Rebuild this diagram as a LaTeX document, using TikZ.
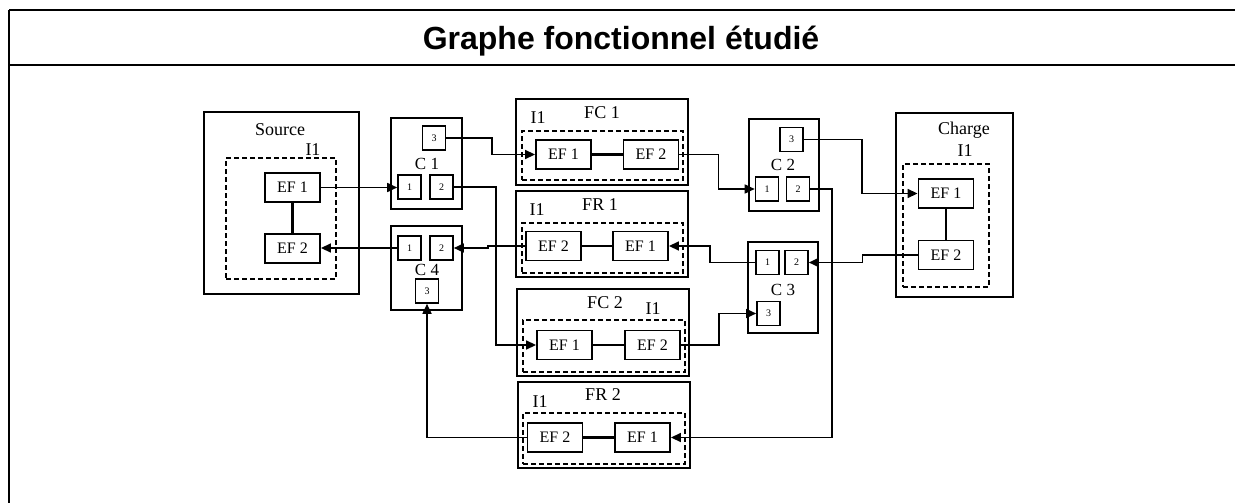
\documentclass[tikz,border=0pt]{standalone}
\usepackage{fontspec}
\setmainfont{Liberation Serif}
\newfontfamily\titlefont{Liberation Sans}
\usetikzlibrary{arrows.meta}
\begin{document}
\begin{tikzpicture}[x=1pt,y=-1pt,
  frame/.style={line width=1.8pt},
  outerbox/.style={draw,line width=1.9pt,inner sep=0pt},
  dashbox/.style={draw,line width=1.4pt,dash pattern=on 5pt off 3pt,inner sep=0pt},
  efbox/.style={draw,line width=1.9pt,minimum width=55pt,minimum height=29pt,inner sep=0pt,font=\fontsize{16}{16}\selectfont},
  port/.style={draw,line width=1.6pt,minimum width=23pt,minimum height=24pt,inner sep=0pt,font=\fontsize{10}{10}\selectfont},
  lbl/.style={inner sep=0pt,font=\fontsize{18}{18}\selectfont},
  clbl/.style={inner sep=0pt,font=\fontsize{17}{17}\selectfont},
  link/.style={line width=2.4pt},
  arr/.style={line width=1.7pt,-{Triangle[length=10pt,width=9pt]}}
]
\useasboundingbox (0,0) rectangle (1235,503);
% frame
\draw[frame] (9,10) -- (1235,10);
\draw[frame] (9,65) -- (1235,65);
\draw[frame] (9,10) -- (9,503);
\node[inner sep=0pt,font=\titlefont\bfseries\fontsize{32}{32}\selectfont] (title) at (621,41) {Graphe fonctionnel étudié};

% Source
\node[outerbox,minimum width=155pt,minimum height=182pt] (src) at (281.5,203) {};
\node[lbl,font=\fontsize{18}{18}\selectfont] (srcl) at (280,130) {Source};
\node[dashbox,minimum width=110pt,minimum height=121pt] (srcd) at (281,218.5) {};
\node[lbl] (srci) at (313,150) {I1};
\node[efbox] (se1) at (292.5,187.5) {EF 1};
\node[efbox] (se2) at (292.5,248.5) {EF 2};
\draw[link] (se1) -- (se2);

% C1
\node[outerbox,minimum width=71pt,minimum height=91pt] (c1) at (426.5,163.5) {};
\node[port] (c1p3) at (434,138) {3};
\node[clbl] (c1l) at (427,164) {C 1};
\node[port] (c1p1) at (409.5,187) {1};
\node[port] (c1p2) at (441.5,187) {2};

% C4
\node[outerbox,minimum width=71pt,minimum height=84pt] (c4) at (426.5,268) {};
\node[port] (c4p1) at (409.5,248) {1};
\node[port] (c4p2) at (441.5,248) {2};
\node[clbl] (c4l) at (427,270) {C 4};
\node[port] (c4p3) at (427,291) {3};

% FC1
\node[outerbox,minimum width=172pt,minimum height=86pt] (fc1) at (602,142) {};
\node[lbl] (fc1l) at (602,113) {FC 1};
\node[lbl] (fc1i) at (538,118) {I1};
\node[dashbox,minimum width=161pt,minimum height=49pt] (fc1d) at (602.5,155.5) {};
\node[efbox] (fc1e1) at (563.5,154.5) {EF 1};
\node[efbox] (fc1e2) at (651,154.5) {EF 2};
\draw[link] (fc1e1) -- (fc1e2);

% FR1
\node[outerbox,minimum width=172pt,minimum height=86pt] (fr1) at (602,234) {};
\node[lbl] (fr1l) at (600,205) {FR 1};
\node[lbl] (fr1i) at (537,210) {I1};
\node[dashbox,minimum width=161pt,minimum height=50pt] (fr1d) at (602.5,248) {};
\node[efbox] (fr1e2) at (553.5,246) {EF 2};
\node[efbox] (fr1e1) at (640.5,246) {EF 1};
\draw[link] (fr1e2) -- (fr1e1);

% FC2
\node[outerbox,minimum width=172pt,minimum height=87pt] (fc2) at (603,332.5) {};
\node[lbl] (fc2l) at (605,303) {FC 2};
\node[lbl] (fc2i) at (653,309) {I1};
\node[dashbox,minimum width=162pt,minimum height=52pt] (fc2d) at (604,346) {};
\node[efbox] (fc2e1) at (564.5,345) {EF 1};
\node[efbox] (fc2e2) at (652.5,345) {EF 2};
\draw[link] (fc2e1) -- (fc2e2);

% FR2
\node[outerbox,minimum width=172pt,minimum height=86pt] (fr2) at (604,425) {};
\node[lbl] (fr2l) at (603,395) {FR 2};
\node[lbl] (fr2i) at (540,402) {I1};
\node[dashbox,minimum width=162pt,minimum height=51pt] (fr2d) at (604,438.5) {};
\node[efbox] (fr2e2) at (555,437.5) {EF 2};
\node[efbox] (fr2e1) at (642.5,437.5) {EF 1};
\draw[link] (fr2e2) -- (fr2e1);

% C2
\node[outerbox,minimum width=70pt,minimum height=92pt] (c2) at (784,165) {};
\node[port] (c2p3) at (791.5,139.5) {3};
\node[clbl] (c2l) at (783,165) {C 2};
\node[port] (c2p1) at (767,189) {1};
\node[port] (c2p2) at (798,189) {2};

% C3
\node[outerbox,minimum width=70pt,minimum height=91pt] (c3) at (783,287.5) {};
\node[port] (c3p1) at (767.5,262.5) {1};
\node[port] (c3p2) at (796.5,262.5) {2};
\node[clbl] (c3l) at (783,290) {C 3};
\node[port] (c3p3) at (768.5,313.5) {3};

% Charge
\node[outerbox,minimum width=117pt,minimum height=184pt] (ch) at (954.5,205) {};
\node[lbl,font=\fontsize{18}{18}\selectfont] (chl) at (964,130) {Charge};
\node[lbl] (chi) at (965,151) {I1};
\node[dashbox,minimum width=86pt,minimum height=123pt] (chd) at (946,225.5) {};
\node[efbox] (che1) at (946,193.5) {EF 1};
\node[efbox] (che2) at (946,255) {EF 2};
\draw[link] (che1) -- (che2);

% connectors
\draw[arr] (se1.east) -- (se1.east -| c1p1.west);
\draw[arr] (c1p3.east) -- ++(46,0) |- (fc1e1.west);
\draw[arr] (c1p2.east) -- ++(42,0) |- (fc2e1.west);
\draw[arr] (c4p1.west) -- (c4p1.west -| se2.east);
\draw[arr] (fr1e2.west) -- ++(-37,0) |- (c4p2.east);
\draw[arr] (fr2e2.west) -| (c4p3.south);
\draw[arr] (fc1e2.east) -- ++(39,0) |- (c2p1.west);
\draw[arr] (c3p1.west) -- ++(-45,0) |- (fr1e1.east);
\draw[arr] (c2p2.east) -- ++(22,0) |- (fr2e1.east);
\draw[arr] (fc2e2.east) -- ++(38,0) |- (c3p3.west);
\draw[arr] (che2.west) -- ++(-55,0) |- (c3p2.east);
\draw[arr] (c2p3.east) -- ++(58,0) |- (che1.west);
\end{tikzpicture}
\end{document}
